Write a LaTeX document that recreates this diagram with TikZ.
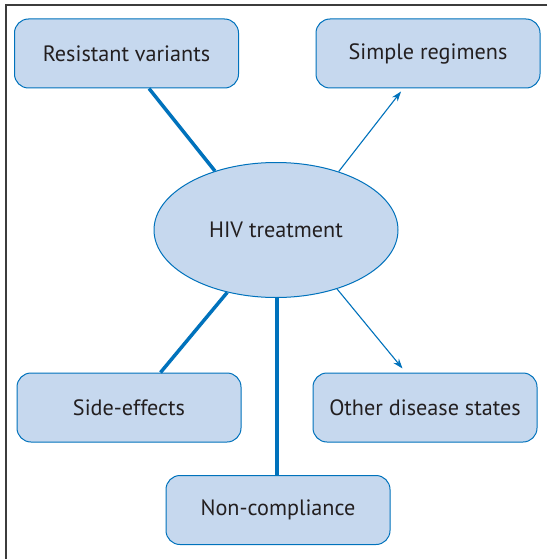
\documentclass[tikz,border=0pt]{standalone}
\usepackage{fontspec}
\setmainfont{PT Sans}
\usetikzlibrary{calc,arrows.meta,shapes.geometric}
\definecolor{boxfill}{RGB}{198,216,238}
\definecolor{boxline}{RGB}{0,114,188}
\definecolor{txt}{RGB}{35,31,32}
\definecolor{framec}{RGB}{60,60,60}
\begin{document}
\begin{tikzpicture}[x=1pt,y=-1pt,
  box/.style={draw=boxline,fill=boxfill,line width=1pt,rounded corners=14pt,
    minimum width=224pt,minimum height=69pt,inner sep=0pt,text=txt,
    font=\fontsize{22.2}{26}\selectfont},
  oval/.style={ellipse,draw=boxline,fill=boxfill,line width=1pt,
    minimum width=244pt,minimum height=135pt,inner sep=0pt,text=txt,
    font=\fontsize{22.2}{26}\selectfont},
  thick link/.style={draw=boxline,line width=3.5pt},
  thin arrow/.style={draw=boxline,line width=1.1pt,-{Stealth[length=10pt,width=7pt]}}]
\useasboundingbox (0,0) rectangle (547,559);
\fill[white] (0,0) rectangle (547,559);
\coordinate (ftl) at (6,5);
\coordinate (ftr) at (547,5);
\coordinate (fbl) at (6,559);
\draw[framec,line width=1.3pt] (ftr) -- (ftl) -- (fbl);
\node[oval] (hiv) at (276,230) {HIV treatment};
\node[box] (rv) at (126.5,53.5) {Resistant variants};
\node[box] (sr) at (428,53.5) {Simple regimens};
\node[box] (se) at (129,407.5) {Side-effects};
\node[box] (od) at (425,407.5) {Other disease states};
\node[box] (nc) at (278,510) {Non-compliance};
\draw[thick link] ($(rv.south west)!0.6!(rv.south east)$) -- (hiv.136);
\draw[thick link] (hiv.232) -- ($(se.north west)!0.64!(se.north east)$);
\draw[thick link] (hiv.south -| 277,0) -- (nc.north -| 277,0);
\draw[thin arrow] (hiv.43) -- ($($(sr.south west)!0.38!(sr.south east)$)+(0,3)$);
\draw[thin arrow] (hiv.316) -- ($($(od.north west)!0.40!(od.north east)$)+(0,-4)$);
\end{tikzpicture}
\end{document}
